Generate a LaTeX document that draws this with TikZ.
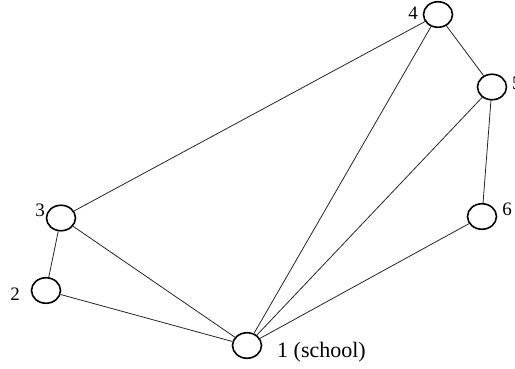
\documentclass[tikz,border=0pt]{standalone}
\usepackage{fontspec}
\setmainfont{Liberation Serif}
\usetikzlibrary{shapes.geometric}
\begin{document}
\begin{tikzpicture}[x=1pt,y=-1pt,
  vert/.style={draw=black,line width=1.6pt,ellipse,minimum width=29pt,minimum height=25.5pt,inner sep=0pt},
  edge/.style={draw=black!85,line width=0.8pt},
  lbl/.style={inner sep=0pt,font=\fontsize{19}{19}\selectfont}]
\useasboundingbox (0,0) rectangle (515,369);
\node[vert] (n4) at (438,14.5) {};
\node[vert] (n5) at (492,87) {};
\node[vert] (n3) at (61,218) {};
\node[vert] (n2) at (46,290.5) {};
\node[vert] (n1) at (247,345.5) {};
\node[vert] (n6) at (482,216.5) {};
\node[lbl] (l4) at (413,13) {4};
\node[lbl,anchor=west] (l5) at (512,83) {5};
\node[lbl] (l3) at (40,210) {3};
\node[lbl] (l2) at (15,294) {2};
\node[lbl] (l6) at (507,209) {6};
\node[lbl,anchor=west,font=\fontsize{22}{22}\selectfont] (l1) at (277,352) {1 (school)};
\draw[edge] (n3) -- (n4);
\draw[edge] (n3) -- (n2);
\draw[edge] (n3) -- (n1);
\draw[edge] (n2) -- (n1);
\draw[edge] (n1) -- (n4);
\draw[edge] (n1) -- (n5);
\draw[edge] (n1) -- (n6);
\draw[edge] (n4) -- (n5);
\draw[edge] (n5) -- (n6);
\end{tikzpicture}
\end{document}
